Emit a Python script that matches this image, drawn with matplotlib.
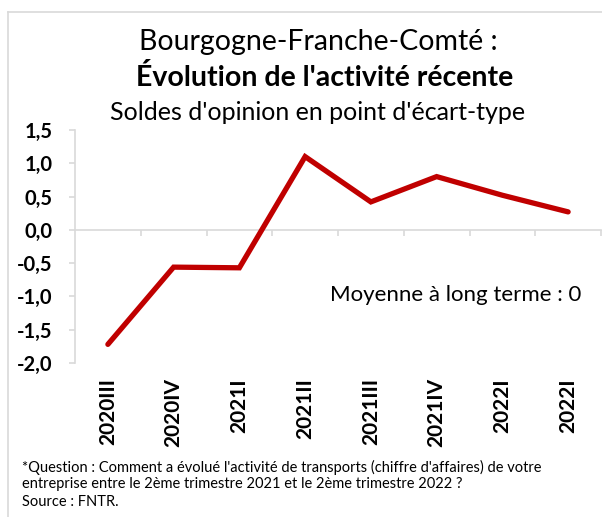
import matplotlib
matplotlib.use("Agg")
import matplotlib.pyplot as plt
from matplotlib.lines import Line2D

plt.rcParams['font.family'] = ['Lato', 'DejaVu Sans']

categories = ["2020III", "2020IV", "2021I", "2021II", "2021III", "2021IV", "2022I", "2022I"]
values = [-1.72, -0.56, -0.57, 1.10, 0.42, 0.80, 0.52, 0.27]
yticks = [1.5, 1.0, 0.5, 0.0, -0.5, -1.0, -1.5, -2.0]
ytick_labels = ["1,5", "1,0", "0,5", "0,0", "-0,5", "-1,0", "-1,5", "-2,0"]

W, H = 602, 517
fig = plt.figure(figsize=(W/100, H/100), dpi=100)

def fx(px):
    return px / W

def fy(py):
    return 1 - py / H

ax = fig.add_axes([fx(75), fy(363), fx(601) - fx(75), fy(130) - fy(363)])
x = list(range(len(categories)))
ax.plot(x, values, color="#C00000", lw=3.8, solid_capstyle="round", solid_joinstyle="miter", zorder=3)
ax.set_xlim(-0.5, len(categories) - 0.5)
ax.set_ylim(-2.0, 1.5)

grey = "#D9D9D9"
for s in ["top", "right"]:
    ax.spines[s].set_visible(False)
ax.spines["left"].set_color(grey)
ax.spines["left"].set_linewidth(1.2)
ax.spines["bottom"].set_position(("data", 0))
ax.spines["bottom"].set_color(grey)
ax.spines["bottom"].set_linewidth(1.2)

ax.set_yticks(yticks)
ax.set_yticklabels(ytick_labels, fontsize=14.5, fontweight="bold")
ax.tick_params(axis="y", direction="out", length=4, width=1.2, color=grey, pad=12)

# category boundary ticks on the zero line
ax.set_xticks([i + 0.5 for i in range(len(categories))])
ax.set_xticklabels([])
ax.tick_params(axis="x", direction="out", length=4, width=1.2, color=grey)

# category labels below the plot
for i, lab in enumerate(categories):
    ax.text(i, -0.065, lab, transform=ax.get_xaxis_transform(), rotation=90,
            ha="center", va="top", fontsize=15, fontweight="bold")

ax.text(0.962, 0.29, "Moyenne à long terme : 0", transform=ax.transAxes,
        ha="right", va="center", fontsize=16)

fig.text(fx(318), fy(42), "Bourgogne-Franche-Comté :", ha="center", va="center", fontsize=20.5)
fig.text(fx(325), fy(77), "Évolution de l'activité récente", ha="center", va="center", fontsize=20.5, fontweight="bold")
fig.text(fx(318), fy(112), "Soldes d'opinion en point d'écart-type", ha="center", va="center", fontsize=18)

fig.text(fx(22), fy(467), "*Question : Comment a évolué l'activité de transports (chiffre d'affaires) de votre",
         ha="left", va="center", fontsize=10.5)
fig.text(fx(22), fy(484), "entreprise entre le 2ème trimestre 2021 et le 2ème trimestre 2022 ?",
         ha="left", va="center", fontsize=10.5)
fig.text(fx(22), fy(502), "Source : FNTR.", ha="left", va="center", fontsize=10.5)

# chart frame
fig.add_artist(Line2D([fx(8), 1.0], [fy(12), fy(12)], color=grey, lw=1.2))
fig.add_artist(Line2D([fx(8), fx(8)], [fy(12), 0.0], color=grey, lw=1.2))

fig.savefig("out.png", dpi=100)
